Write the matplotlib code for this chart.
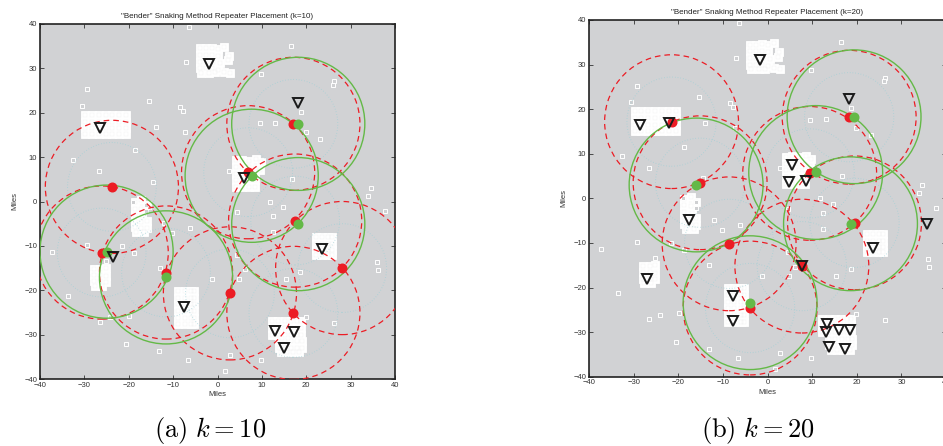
import matplotlib
matplotlib.use("Agg")
import matplotlib.pyplot as plt
from matplotlib.patches import Circle

plt.rcParams["mathtext.fontset"] = "cm"
plt.rcParams["font.family"] = ["Liberation Sans", "DejaVu Sans"]

# ---------------- base map: demand points (miles) ----------------
scatter_pts = [
    (-6.4, 39.4), (-7.1, 31.4), (-29.3, 25.3), (-30.6, 21.6), (-15.4, 22.7),
    (-8.5, 21.4), (-7.7, 20.5), (-13.9, 16.9), (-7.3, 15.7), (-18.6, 11.6),
    (-32.6, 9.4), (-26.6, 6.9), (-14.5, 4.5), (-19.0, 0.0),
    (16.5, 35.1), (9.8, 28.7), (26.3, 27.1), (26.1, 26.3), (18.8, 20.2),
    (9.6, 17.6), (13.0, 17.8), (19.9, 15.7), (23.1, 14.1), (2.7, 6.8),
    (16.8, 5.0), (11.8, 0.0), (34.7, 3.0), (34.0, 1.2), (37.7, -2.1),
    (14.7, -1.2), (4.5, -2.3),
    (-37.4, -11.3), (-29.3, -9.8), (-21.6, -10.0), (-18.8, -11.5), (-25.1, -13.3),
    (-6.2, -5.9), (-10.3, -7.2), (-12.1, -4.8), (-13.0, -14.9), (-1.3, -17.5),
    (-33.6, -21.3), (-26.5, -27.1), (-24.2, -26.1), (-19.9, -25.8), (-20.6, -32.2),
    (-13.1, -33.8), (-6.6, -35.7), (-16.1, -0.8), (-16.1, -2.1),
    (12.4, -3.3), (12.4, -6.8), (4.5, -12.0), (6.2, -15.3), (18.6, -15.8),
    (15.4, -17.5), (4.8, -17.5), (36.0, -13.7), (36.1, -15.5), (19.9, -26.0),
    (26.3, -27.3), (2.8, -34.7), (9.8, -35.7), (1.7, -38.3),
]

cluster_a = [(x, y) for y in (19.5, 18.0, 16.5, 15.2)
             for x in (-29.8, -28.3, -26.8, -25.2, -23.7, -22.1, -20.6)]
cluster_b = [(-4.0, 34.5), (-2.6, 34.5), (-1.2, 34.6), (0.2, 34.3), (1.4, 34.8),
             (-4.0, 33.0), (-2.6, 33.0), (-1.2, 33.0), (0.0, 32.8), (2.5, 32.9),
             (-4.0, 31.5), (-2.6, 31.5), (-1.0, 31.5), (0.5, 31.2), (2.3, 31.8),
             (-4.0, 30.0), (-2.6, 30.0), (-1.2, 30.0), (0.2, 29.6), (1.5, 29.2),
             (2.8, 29.0), (-3.8, 29.0), (-2.0, 29.0), (-0.5, 29.1)]
cluster_c = [(4.2, 9.3), (5.6, 9.4), (7.0, 9.2), (8.6, 9.5), (9.8, 8.8),
             (4.2, 7.8), (5.6, 7.8), (7.0, 7.8), (8.4, 7.6), (9.6, 7.2),
             (4.2, 6.3), (5.6, 6.3), (7.0, 6.3), (8.4, 6.3),
             (4.2, 4.8), (5.6, 4.8), (7.0, 4.8), (8.4, 4.8),
             (4.2, 3.3), (5.6, 3.3), (7.0, 3.3), (8.4, 3.3)]
cluster_d = [(-18.6, -0.2), (-17.2, 0.3), (-16.0, -0.8), (-18.6, -1.6), (-17.2, -1.8),
             (-18.6, -3.0), (-17.0, -3.2), (-18.6, -4.4), (-17.2, -4.6), (-16.0, -4.4),
             (-18.6, -5.8), (-17.2, -5.9), (-16.0, -5.9), (-18.3, -6.8), (-16.5, -6.9)]
cluster_e = [(-27.8, -15.2), (-26.4, -15.2), (-25.2, -15.0), (-27.8, -16.6),
             (-26.4, -16.6), (-25.1, -16.8), (-27.8, -18.0), (-26.4, -18.0),
             (-25.2, -18.2), (-27.6, -19.0), (-26.0, -19.0)]
cluster_f = [(x, y) for y in (-20.2, -21.7, -23.2, -24.7, -26.2, -27.7)
             for x in (-8.8, -7.4, -6.0, -5.2)]
cluster_g = [(x, y) for y in (-8.0, -9.5, -11.0, -12.0)
             for x in (22.2, 23.6, 25.0, 25.8)]
cluster_h = ([(x, y) for y in (-27.0, -28.5, -30.0)
              for x in (12.3, 13.7, 15.1, 16.5, 17.9, 18.8)]
             + [(x, y) for y in (-31.5, -33.0)
                for x in (13.8, 15.2, 16.6, 18.0, 19.0)]
             + [(14.2, -34.0), (15.6, -34.0), (17.0, -34.0), (18.4, -34.0)])
clusters = [cluster_a, cluster_b, cluster_c, cluster_d,
            cluster_e, cluster_f, cluster_g, cluster_h]

# ---------------- k = 10 ----------------
red_k10 = [(-23.8, 3.3), (-26.1, -11.5), (-11.6, -16.0), (2.8, -20.7),
           (17.1, -25.1), (28.1, -15.0), (17.5, -4.3), (6.9, 6.6), (17.1, 17.5)]
green_k10 = [(-25.0, -11.3), (-11.6, -17.1), (7.7, 5.8), (18.2, 17.5), (18.2, -5.1)]
tri_k10 = [(-23.5, -12.6), (-26.5, 16.6), (-1.85, 31.0), (18.1, 22.2), (6.0, 5.3),
           (-7.55, -23.8), (23.6, -10.8), (13.0, -29.1), (17.3, -29.3), (15.0, -33.1)]

# ---------------- k = 20 ----------------
red_k20 = [(-21.5, 17.2), (-15.1, 3.5), (-8.6, -10.2), (-3.9, -24.6),
           (7.7, -15.2), (9.45, 5.6), (18.3, 18.2), (19.5, -5.5)]
green_k20 = [(-16.0, 3.0), (-3.9, -23.4), (10.8, 5.8), (19.4, 18.3), (18.6, -5.7)]
tri_k20 = [(-22.1, 17.0), (-28.6, 16.4), (-1.75, 31.0), (18.2, 22.3),
           (5.6, 7.5), (4.8, 3.6), (8.7, 3.9), (-17.6, -4.8), (-26.9, -18.0),
           (-7.7, -21.8), (-7.7, -27.5), (23.6, -11.1), (35.8, -5.8), (7.7, -15.2),
           (13.3, -28.1), (13.0, -30.0), (16.0, -29.6), (18.4, -29.5),
           (13.7, -33.4), (17.4, -33.8)]

ticks = [-40, -30, -20, -10, 0, 10, 20, 30, 40]
outer_radius = 15.0
inner_radius = 10.0

BG = "#d1d2d4"
RED = "#ec1c24"
GREEN = "#64b947"
CYAN = "#9dd0d6"


def draw_panel(ax, red, green, tri, title):
    ax.set_facecolor(BG)
    ax.set_xlim(-40, 40)
    ax.set_ylim(-40, 40)

    for pts in clusters:
        xs, ys = zip(*pts)
        ax.plot(xs, ys, "s", ms=6.4, mfc="white", mec="white", mew=0.6, zorder=1)
        ax.plot(xs, ys, "s", ms=2.4, mfc="none", mec="#f1f1f1", mew=0.3, zorder=1)
    sx, sy = zip(*scatter_pts)
    ax.plot(sx, sy, "s", ms=3.0, mfc="#cfd0d2", mec="white", mew=0.7, zorder=1)

    for (x, y) in red:
        ax.add_patch(Circle((x, y), inner_radius, fill=False, ec=CYAN, lw=0.7,
                            ls=(0, (0.6, 2.2)), zorder=2))
        ax.add_patch(Circle((x, y), outer_radius, fill=False, ec=RED, lw=0.9,
                            ls=(0, (4.5, 3.2)), zorder=3))
    for (x, y) in green:
        ax.add_patch(Circle((x, y), outer_radius, fill=False, ec=GREEN, lw=1.0,
                            zorder=3))

    rx, ry = zip(*red)
    ax.plot(rx, ry, "o", ms=6.2, color=RED, mec=RED, zorder=4)
    gx, gy = zip(*green)
    ax.plot(gx, gy, "o", ms=6.2, color=GREEN, mec=GREEN, zorder=5)
    tx, ty = zip(*tri)
    ax.plot(tx, ty, "v", ms=7.5, mfc="none", mec="#1a1a1a", mew=1.4, zorder=6)

    labels = [f"\u2212{abs(t)}" if t < 0 else str(t) for t in ticks]
    ax.set_xticks(ticks)
    ax.set_yticks(ticks)
    ax.set_xticklabels(labels)
    ax.set_yticklabels(labels)
    ax.tick_params(direction="in", top=True, right=True, length=3, width=0.6,
                   labelsize=5.5, pad=2, colors="#333333")
    for s in ax.spines.values():
        s.set_linewidth(1.2)
        s.set_color("#222222")
    ax.set_xlabel("Miles", fontsize=5.5, labelpad=1.5, color="#333333")
    ax.set_ylabel("Miles", fontsize=5.5, labelpad=4, color="#333333")
    ax.set_title(title, fontsize=5.8, pad=4, color="#222222")


fig = plt.figure(figsize=(9.43, 4.46), dpi=100)
ax1 = fig.add_axes([40 / 943, 1 - 379 / 446, 355 / 943, 355 / 446])
ax2 = fig.add_axes([589 / 943, 1 - 376.7 / 446, 357 / 943, 356.7 / 446])

draw_panel(ax1, red_k10, green_k10, tri_k10,
           '"Bender" Snaking Method Repeater Placement (k=10)')
draw_panel(ax2, red_k20, green_k20, tri_k20,
           '"Bender" Snaking Method Repeater Placement (k=20)')

fig.text(210 / 943, 1 - 431 / 446, r"$\mathrm{(a)}\ k = 10$", fontsize=19,
         ha="center", va="center")
fig.text(758 / 943, 1 - 431 / 446, r"$\mathrm{(b)}\ k = 20$", fontsize=19,
         ha="center", va="center")

fig.savefig("out.png", dpi=100, facecolor="white")
